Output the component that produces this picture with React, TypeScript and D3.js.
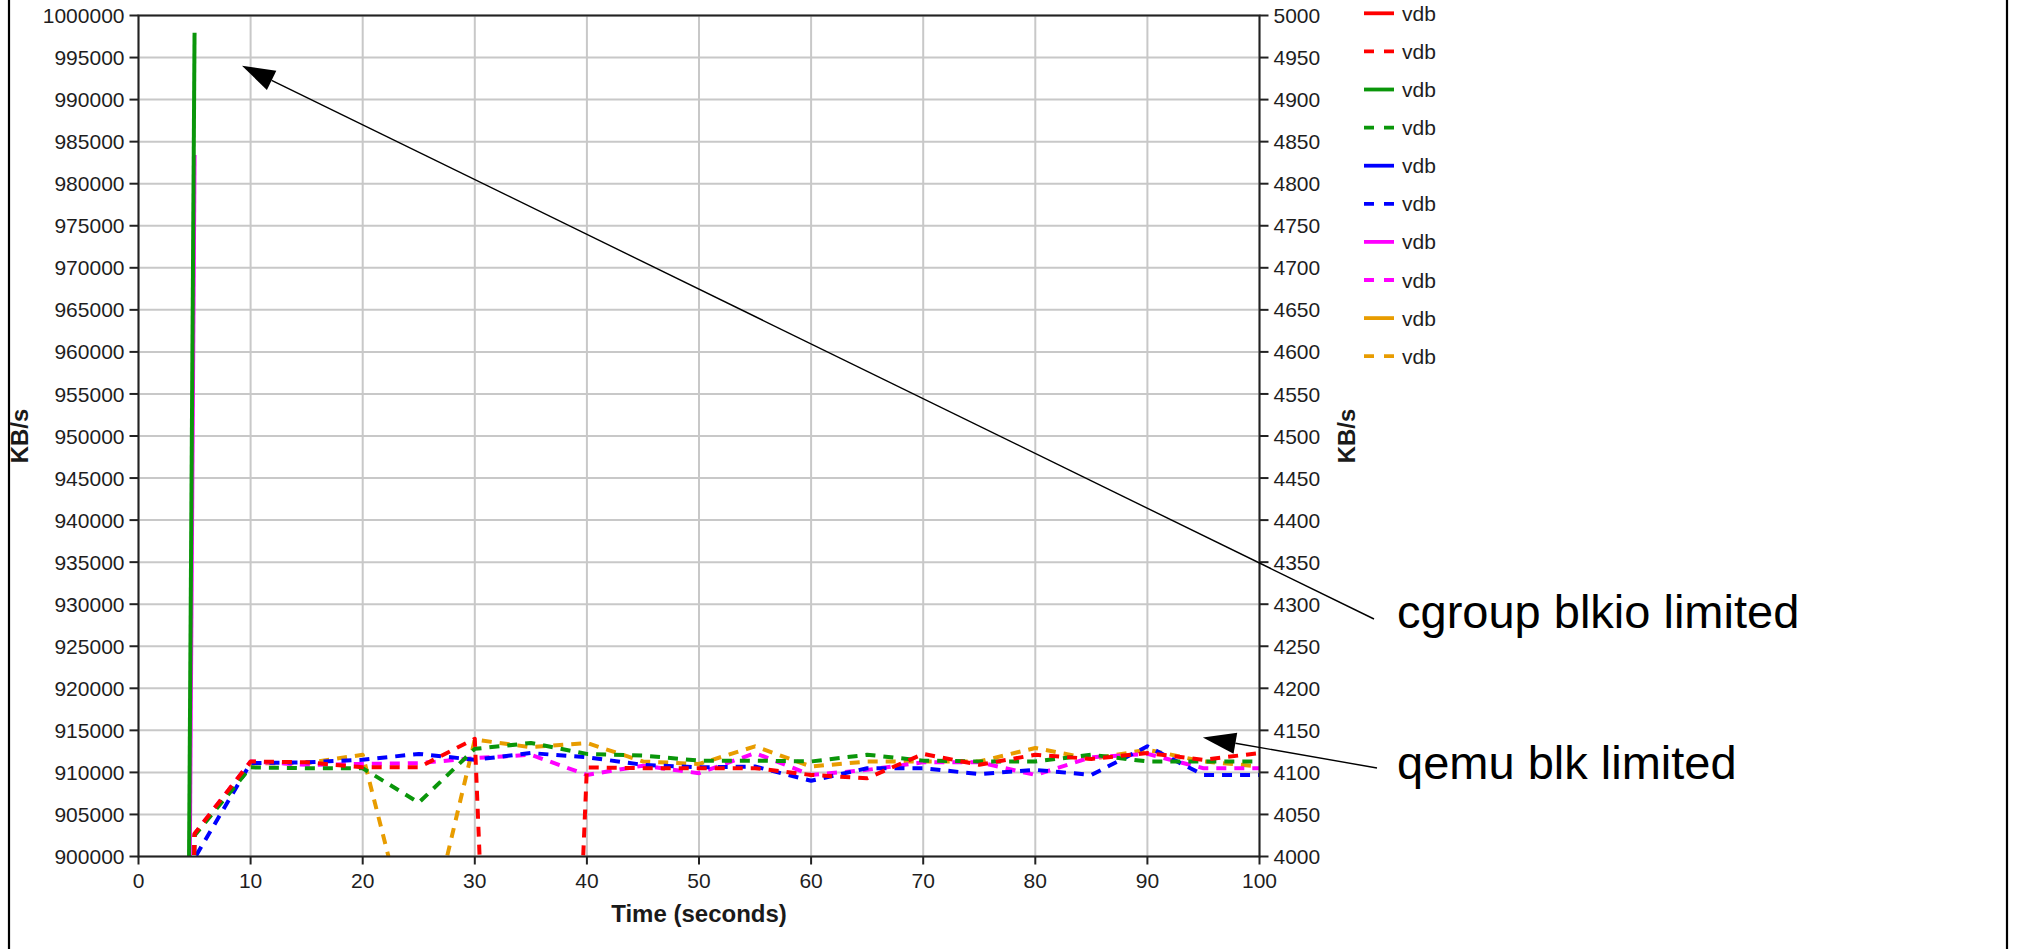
import React, { useEffect } from "react";
import * as d3 from "d3";

// ---------- data ----------
const times = [0, 5, 10, 15, 20, 25, 30, 35, 40, 45, 50, 55, 60, 65, 70, 75, 80, 85, 90, 95, 100];
const solidTimes = [0, 5];

// solid series (left axis, KB/s)
const redSolid: number[] = [];
const greenSolid = [0, 997940];
const blueSolid: number[] = [];
const magentaSolid = [0, 983400];
const orangeSolid: number[] = [];

// dashed series (right axis, KB/s)
const redDashed = [0, 4027, 4113, 4112, 4106, 4106, 4140, 2500, 4106, 4105, 4105, 4105, 4097, 4093, 4122, 4109, 4121, 4116, 4123, 4115, 4123];
const greenDashed = [0, 4025, 4106, 4105, 4105, 4064, 4128, 4135, 4122, 4120, 4114, 4114, 4113, 4121, 4114, 4113, 4113, 4121, 4113, 4113, 4113];
const blueDashed = [0, 3998, 4111, 4112, 4115, 4122, 4115, 4123, 4118, 4109, 4106, 4107, 4090, 4105, 4105, 4098, 4103, 4097, 4131, 4097, 4097];
const magentaDashed = [0, 4027, 4113, 4109, 4110, 4111, 4117, 4121, 4097, 4108, 4099, 4123, 4097, 4103, 4112, 4112, 4097, 4118, 4122, 4105, 4105];
const orangeDashed = [0, 4026, 4111, 4111, 4121, 3858, 4139, 4130, 4135, 4113, 4110, 4131, 4107, 4113, 4113, 4113, 4129, 4116, 4127, 4113, 4107];

const xTicks = [0, 10, 20, 30, 40, 50, 60, 70, 80, 90, 100];
const leftTicks = d3.range(900000, 1000001, 5000);
const rightTicks = d3.range(4000, 5001, 50);

const seriesNames = ["vdb", "vdb", "vdb", "vdb", "vdb", "vdb", "vdb", "vdb", "vdb", "vdb"];
const seriesColors = ["#ff0000", "#ff0000", "#0a960a", "#0a960a", "#0000ff", "#0000ff", "#ff00ff", "#ff00ff", "#e89c00", "#e89c00"];
const seriesDashed = [false, true, false, true, false, true, false, true, false, true];
const seriesValues = [redSolid, redDashed, greenSolid, greenDashed, blueSolid, blueDashed, magentaSolid, magentaDashed, orangeSolid, orangeDashed];

const annotations = [
  { text: "cgroup blkio limited", tipT: 9.23, tipV: 994020, axis: "left", tailX: 1374, tailY: 619, textX: 1397, textY: 628 },
  { text: "qemu blk limited", tipT: 94.95, tipV: 4141.5, axis: "right", tailX: 1377, tailY: 768, textX: 1397, textY: 779 },
];

// ---------- layout ----------
const W = 2017;
const H = 949;
const P = { left: 138.5, right: 1259.5, top: 15.5, bottom: 856.5 };
const FONT = "'Liberation Sans', Arial, Helvetica, sans-serif";

export default function App() {
  useEffect(() => {
    document.body.style.margin = "0";
    document.body.style.overflow = "hidden";
  }, []);

  const x = d3.scaleLinear().domain([0, 100]).range([P.left, P.right]);
  const yL = d3.scaleLinear().domain([900000, 1000000]).range([P.bottom, P.top]);
  const yR = d3.scaleLinear().domain([4000, 5000]).range([P.bottom, P.top]);

  const series = seriesValues.map((vals, i) => {
    const dashed = seriesDashed[i];
    const ts = dashed ? times : solidTimes;
    const yS = dashed ? yR : yL;
    const pts: [number, number][] = vals.map((v, j) => [x(ts[j]), yS(v)]);
    const line = d3.line<[number, number]>().x((d) => d[0]).y((d) => d[1]);
    return { i, d: vals.length ? line(pts) : null, color: seriesColors[i], dashed };
  });
  const drawOrder = [...series].reverse();

  const legendX = 1364;
  const legendY0 = 13.3;
  const legendStep = 38.1;

  return (
    <svg width={W} height={H} style={{ position: "absolute", left: 0, top: 0, background: "#fff" }} fontFamily={FONT}>
      <defs>
        <clipPath id="plotClip">
          <rect x={P.left} y={P.top} width={P.right - P.left} height={P.bottom - P.top} />
        </clipPath>
      </defs>
      <rect x={0} y={0} width={W} height={H} fill="#fff" />
      {/* frame */}
      <line x1={9} y1={0} x2={9} y2={H} stroke="#000" strokeWidth={2.2} />
      <line x1={2007} y1={0} x2={2007} y2={H} stroke="#000" strokeWidth={2.2} />

      {/* grid */}
      {leftTicks.map((t) => (
        <line key={"hg" + t} x1={P.left} x2={P.right} y1={yL(t)} y2={yL(t)} stroke="#c8c8c8" strokeWidth={2} />
      ))}
      {xTicks.map((t) => (
        <line key={"vg" + t} x1={x(t)} x2={x(t)} y1={P.top} y2={P.bottom} stroke="#c8c8c8" strokeWidth={2} />
      ))}

      {/* series */}
      <g clipPath="url(#plotClip)">
        {drawOrder.map((s) =>
          s.d ? (
            <path
              key={"s" + s.i}
              d={s.d}
              fill="none"
              stroke={s.color}
              strokeWidth={4}
              strokeDasharray={s.dashed ? "10 8" : undefined}
              strokeLinejoin="round"
            />
          ) : null
        )}
      </g>

      {/* plot outline / axes */}
      <rect x={P.left} y={P.top} width={P.right - P.left} height={P.bottom - P.top} fill="none" stroke="#222" strokeWidth={2} />

      {/* left axis */}
      {leftTicks.map((t) => (
        <g key={"lt" + t}>
          <line x1={P.left - 9} x2={P.left} y1={yL(t)} y2={yL(t)} stroke="#222" strokeWidth={2} />
          <text x={P.left - 14} y={yL(t)} dy="0.36em" textAnchor="end" fontSize={21} fill="#1e1e1e">
            {t}
          </text>
        </g>
      ))}
      {/* right axis */}
      {rightTicks.map((t) => (
        <g key={"rt" + t}>
          <line x1={P.right} x2={P.right + 9} y1={yR(t)} y2={yR(t)} stroke="#222" strokeWidth={2} />
          <text x={P.right + 14} y={yR(t)} dy="0.36em" textAnchor="start" fontSize={21} fill="#1e1e1e">
            {t}
          </text>
        </g>
      ))}
      {/* x axis */}
      {xTicks.map((t) => (
        <g key={"xt" + t}>
          <line x1={x(t)} x2={x(t)} y1={P.bottom} y2={P.bottom + 8} stroke="#222" strokeWidth={2} />
          <text x={x(t)} y={P.bottom + 31} textAnchor="middle" fontSize={21} fill="#1e1e1e">
            {t}
          </text>
        </g>
      ))}

      {/* axis titles */}
      <text x={(P.left + P.right) / 2} y={922} textAnchor="middle" fontSize={24} fontWeight="bold" fill="#1a1a1a">
        Time (seconds)
      </text>
      <text transform={`translate(28,${(P.top + P.bottom) / 2}) rotate(-90)`} textAnchor="middle" fontSize={24} fontWeight="bold" fill="#1a1a1a">
        KB/s
      </text>
      <text transform={`translate(1355,${(P.top + P.bottom) / 2}) rotate(-90)`} textAnchor="middle" fontSize={24} fontWeight="bold" fill="#1a1a1a">
        KB/s
      </text>

      {/* legend */}
      {seriesNames.map((n, i) => {
        const y = legendY0 + i * legendStep;
        return (
          <g key={"lg" + i}>
            <line
              x1={legendX}
              x2={legendX + 30}
              y1={y}
              y2={y}
              stroke={seriesColors[i]}
              strokeWidth={3.8}
              strokeDasharray={seriesDashed[i] ? "10 10" : undefined}
            />
            <text x={legendX + 38} y={y} dy="0.36em" fontSize={21} fill="#1e1e1e">
              {n}
            </text>
          </g>
        );
      })}

      {/* annotations */}
      {annotations.map((a, k) => {
        const tx = x(a.tipT);
        const ty = a.axis === "left" ? yL(a.tipV) : yR(a.tipV);
        const dx = a.tailX - tx;
        const dy = a.tailY - ty;
        const len = Math.hypot(dx, dy);
        const ux = dx / len;
        const uy = dy / len;
        const hl = 33;
        const hw = 10.7;
        const bx = tx + ux * hl;
        const by = ty + uy * hl;
        const pts = [
          [tx, ty],
          [bx - uy * hw, by + ux * hw],
          [bx + uy * hw, by - ux * hw],
        ]
          .map((p) => p.join(","))
          .join(" ");
        return (
          <g key={"an" + k}>
            <line x1={bx} y1={by} x2={a.tailX} y2={a.tailY} stroke="#000" strokeWidth={1.4} />
            <polygon points={pts} fill="#000" />
            <text x={a.textX} y={a.textY} fontSize={47} fill="#000">
              {a.text}
            </text>
          </g>
        );
      })}
    </svg>
  );
}
